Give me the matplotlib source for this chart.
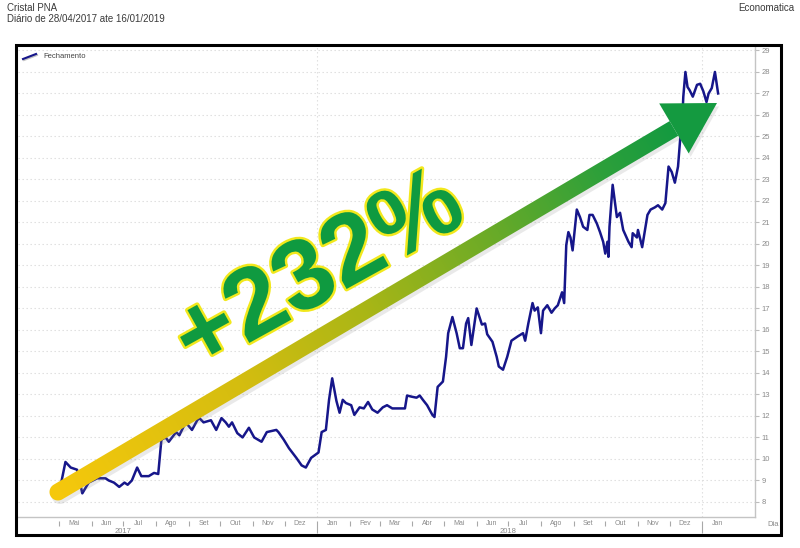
import matplotlib
matplotlib.use("Agg")
import matplotlib.pyplot as plt
import matplotlib.patheffects as pe
import numpy as np
import pandas as pd
from matplotlib.colors import LinearSegmentedColormap
from matplotlib.patches import Polygon, Rectangle

plt.rcParams["font.family"] = ["Liberation Sans", "DejaVu Sans"]

# closing prices (Cristal PNA, daily)
dates = [
    "2017-04-28", "2017-05-03", "2017-05-07", "2017-05-12", "2017-05-18", "2017-05-23",
    "2017-05-29", "2017-06-06", "2017-06-14", "2017-06-17", "2017-06-22", "2017-06-27",
    "2017-07-02", "2017-07-05", "2017-07-09", "2017-07-14", "2017-07-18", "2017-07-25",
    "2017-07-30", "2017-08-03", "2017-08-06", "2017-08-10", "2017-08-13", "2017-08-20",
    "2017-08-23", "2017-08-29", "2017-09-04", "2017-09-09", "2017-09-11", "2017-09-15",
    "2017-09-22", "2017-09-27", "2017-10-02", "2017-10-06", "2017-10-09", "2017-10-12",
    "2017-10-17", "2017-10-22", "2017-10-28", "2017-11-02", "2017-11-09", "2017-11-14",
    "2017-11-23", "2017-11-25", "2017-11-30", "2017-12-05", "2017-12-12", "2017-12-17",
    "2017-12-21", "2017-12-26", "2018-01-02", "2018-01-05", "2018-01-09", "2018-01-12",
    "2018-01-15", "2018-01-19", "2018-01-22", "2018-01-25", "2018-01-28", "2018-02-02",
    "2018-02-05", "2018-02-10", "2018-02-14", "2018-02-18", "2018-02-22", "2018-02-27",
    "2018-03-04", "2018-03-08", "2018-03-13", "2018-03-20", "2018-03-25", "2018-03-27",
    "2018-03-31", "2018-04-05", "2018-04-08", "2018-04-11", "2018-04-15", "2018-04-20",
    "2018-04-22", "2018-04-25", "2018-04-30", "2018-05-03", "2018-05-05", "2018-05-09",
    "2018-05-13", "2018-05-16", "2018-05-19", "2018-05-22", "2018-05-24", "2018-05-27",
    "2018-06-01", "2018-06-06", "2018-06-09", "2018-06-11", "2018-06-16", "2018-06-20",
    "2018-06-22", "2018-06-26", "2018-06-30", "2018-07-04", "2018-07-10", "2018-07-15",
    "2018-07-17", "2018-07-20", "2018-07-24", "2018-07-26", "2018-07-29", "2018-08-01",
    "2018-08-03", "2018-08-07", "2018-08-11", "2018-08-14", "2018-08-17", "2018-08-21",
    "2018-08-23", "2018-08-25", "2018-08-27", "2018-08-29", "2018-08-31", "2018-09-04",
    "2018-09-07", "2018-09-10", "2018-09-14", "2018-09-16", "2018-09-19", "2018-09-23",
    "2018-09-26", "2018-09-29", "2018-10-01", "2018-10-03", "2018-10-04", "2018-10-05",
    "2018-10-08", "2018-10-12", "2018-10-15", "2018-10-18", "2018-10-23", "2018-10-26",
    "2018-10-27", "2018-10-31", "2018-11-01", "2018-11-05", "2018-11-10", "2018-11-13",
    "2018-11-17", "2018-11-20", "2018-11-24", "2018-11-27", "2018-11-30", "2018-12-03",
    "2018-12-06", "2018-12-09", "2018-12-11", "2018-12-13", "2018-12-14", "2018-12-16",
    "2018-12-18", "2018-12-20", "2018-12-23", "2018-12-27", "2018-12-30", "2019-01-02",
    "2019-01-05", "2019-01-07", "2019-01-10", "2019-01-13", "2019-01-16",
]
closes = [
    8.45, 8.9, 9.86, 9.6, 9.5, 8.4,
    8.9, 9.1, 9.1, 9.0, 8.9, 8.7,
    8.9, 8.8, 9.0, 9.6, 9.2, 9.2,
    9.35, 9.3, 10.9, 11.0, 10.8, 11.25,
    11.1, 11.7, 11.35, 11.8, 11.9, 11.7,
    11.8, 11.35, 11.9, 11.7, 11.5, 11.7,
    11.2, 11.0, 11.45, 11.0, 10.8, 11.25,
    11.35, 11.25, 10.9, 10.5, 10.05, 9.7,
    9.6, 10.05, 10.3, 11.25, 11.35, 12.75,
    13.75, 12.7, 12.15, 12.75, 12.6, 12.5,
    12.05, 12.4, 12.35, 12.65, 12.3, 12.15,
    12.4, 12.5, 12.35, 12.35, 12.35, 12.95,
    12.9, 12.85, 12.95, 12.75, 12.5, 12.05,
    11.95, 13.35, 13.6, 14.75, 15.85, 16.6,
    15.85, 15.15, 15.15, 16.3, 16.55, 15.3,
    17.0, 16.25, 16.3, 15.8, 15.45, 14.75,
    14.3, 14.15, 14.75, 15.5, 15.7, 15.85,
    15.5, 16.3, 17.25, 16.9, 17.05, 15.85,
    16.9, 17.15, 16.8, 17.0, 17.15, 17.75,
    17.25, 19.95, 20.55, 20.3, 19.7, 21.6,
    21.25, 20.8, 20.65, 21.35, 21.35, 20.95,
    20.55, 20.1, 19.55, 20.1, 19.4, 20.8,
    22.75, 21.25, 21.45, 20.65, 20.1, 19.85,
    20.5, 20.3, 20.65, 19.85, 21.35, 21.6,
    21.7, 21.8, 21.6, 21.9, 23.6, 23.35,
    22.85, 23.6, 24.85, 25.75, 26.85, 28.0,
    27.3, 27.15, 26.85, 27.4, 27.45, 27.1,
    26.6, 27.0, 27.25, 28.0, 27.0,
]

month_starts = pd.date_range("2017-05-01", "2019-01-01", freq="MS")
month_labels = ["Mai", "Jun", "Jul", "Ago", "Set", "Out", "Nov", "Dez",
                "Jan", "Fev", "Mar", "Abr", "Mai", "Jun", "Jul", "Ago",
                "Set", "Out", "Nov", "Dez", "Jan"]
year_labels = ["2017", "2018"]
year_label_dates = ["2017-07-01", "2018-07-01"]
year_starts = ["2018-01-01", "2019-01-01"]
y_ticks = list(range(8, 30))
gain_text = "+232%"

W, H = 800, 548
fig = plt.figure(figsize=(W / 100, H / 100), dpi=100)


def box(x0, y0, x1, y1):
    # pixel box (top-left origin) -> figure fraction rect
    return [x0 / W, 1 - y1 / H, (x1 - x0) / W, (y1 - y0) / H]


ax = fig.add_axes(box(18, 47, 755, 517))
x = pd.to_datetime(dates)
ax.plot(x, closes, color="#16168a", lw=1.8, zorder=3)
ax.set_xlim(pd.Timestamp("2017-03-23"), pd.Timestamp("2019-02-20"))
ax.set_ylim(7.30, 29.16)

for s in ["top", "left"]:
    ax.spines[s].set_visible(False)
for s in ["bottom", "right"]:
    ax.spines[s].set_color("#c4c4c4")
    ax.spines[s].set_linewidth(1)

ax.yaxis.tick_right()
ax.set_yticks(y_ticks)
ax.tick_params(axis="y", labelsize=5.5, labelcolor="#8a8a8a", color="#bdbdbd",
               length=3, width=0.8, pad=1.5)
ax.set_xticks([])
ax.grid(axis="y", ls=(0, (1.2, 2.4)), color="#dcdcdc", lw=0.8)
for d in year_starts:
    ax.axvline(pd.Timestamp(d), ls=(0, (1.2, 2.4)), color="#dcdcdc", lw=0.8)

# month labels, month separators and years below the axis
tr = ax.get_xaxis_transform()
for m, lab in zip(month_starts, month_labels):
    ax.text(m + pd.Timedelta(days=14), -0.014, lab, transform=tr, ha="center",
            va="center", fontsize=5, color="#8a8a8a")
    if m.month == 1:
        ax.vlines(m, -0.034, -0.008, transform=tr, color="#a8a8a8", lw=0.8, clip_on=False)
    else:
        ax.vlines(m, -0.019, -0.008, transform=tr, color="#a8a8a8", lw=0.8, clip_on=False)
for d, lab in zip(year_label_dates, year_labels):
    ax.text(pd.Timestamp(d), -0.03, lab, transform=tr, ha="center", va="center",
            fontsize=5.5, color="#8a8a8a")

# overlay in pixel coordinates for the frame, titles and the arrow
ov = fig.add_axes([0, 0, 1, 1], zorder=5)
ov.axis("off")
ov.patch.set_alpha(0)

ov.add_patch(Rectangle((16, 45), 765, 490, fill=False, ec="black", lw=2.2))
ov.text(7, 8, "Cristal PNA", fontsize=7, color="#3a3a3a", va="center")
ov.text(7, 19, "Diário de 28/04/2017 ate 16/01/2019", fontsize=7, color="#3a3a3a", va="center")
ov.text(794, 8, "Economatica", fontsize=7, color="#3a3a3a", va="center", ha="right")
ov.text(779, 524, "Dia", fontsize=5.5, color="#8a8a8a", va="center", ha="right")

# legend
ov.plot([24, 37], [60, 55], color="#9a9a9a", lw=1.5, alpha=0.6)
ov.plot([23, 36], [59, 54], color="#16168a", lw=1.5)
ov.text(43, 57, "Fechamento", fontsize=5.5, color="#444444", va="center")

# arrow
p0 = np.array([58.0, 492.0])
tip = np.array([717.0, 103.0])
head_len, head_half, shaft_half = 50.0, 29.0, 8.5
u = (tip - p0) / np.linalg.norm(tip - p0)
n = np.array([-u[1], u[0]])
if n[1] < 0:
    n = -n
base = tip - head_len * u
ang = np.linspace(0, np.pi, 30)
cap = [p0 + shaft_half * (np.cos(a) * n - np.sin(a) * u) for a in ang]
shaft = np.vstack([[base + shaft_half * n, base - shaft_half * n], cap[::-1]])
head = np.array([tip, base + head_half * n, base - head_half * n])

off = np.array([2.0, 3.5])
ov.add_patch(Polygon(shaft + off, closed=True, fc="#888888", ec="none", alpha=0.18))
ov.add_patch(Polygon(head + off, closed=True, fc="#888888", ec="none", alpha=0.18))

cmap = LinearSegmentedColormap.from_list(
    "arrow", [(0, "#f5c80c"), (0.3, "#d4bd10"), (0.5, "#a9b616"),
              (0.7, "#6cab27"), (0.88, "#2ea03a"), (1, "#149a40")])
gx, gy = np.meshgrid(np.arange(30, 730), np.arange(90, 520))
t = ((gx - p0[0]) * u[0] + (gy - p0[1]) * u[1]) / np.linalg.norm(base - p0)
clip = Polygon(shaft, closed=True, fc="none", ec="none")
ov.add_patch(clip)
im = ov.imshow(np.clip(t, 0, 1), cmap=cmap, vmin=0, vmax=1,
               extent=(30, 730, 520, 90), origin="upper", aspect="auto", zorder=2)
im.set_clip_path(clip)
ov.add_patch(Polygon(head, closed=True, fc="#149a40", ec="none", zorder=3))
ov.set_xlim(0, W)
ov.set_ylim(H, 0)

ov.text(320, 274, gain_text, fontsize=72, fontweight="bold", color="#0f9a40",
        rotation=29, rotation_mode="anchor", ha="center", va="center", zorder=4,
        family=["Liberation Sans"],
        path_effects=[pe.Stroke(linewidth=3.5, foreground="#f2e81c"), pe.Normal()])

fig.savefig("out.png", dpi=100)
